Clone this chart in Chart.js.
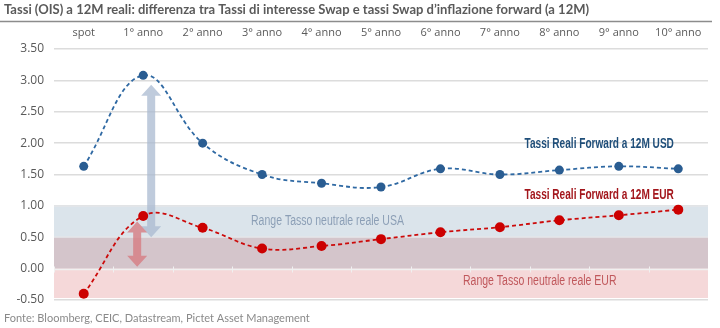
<!DOCTYPE html>
<html><head><meta charset="utf-8">
<script src="https://cdn.jsdelivr.net/npm/chart.js@4/dist/chart.umd.min.js"></script>
<style>html,body{margin:0;padding:0;background:#fff}#wrap{width:720px;height:328px;position:relative}</style>
</head><body><div id="wrap"><canvas id="c" width="720" height="328"></canvas></div>
<script>
const categories = ['spot','1° anno','2° anno','3° anno','4° anno','5° anno','6° anno','7° anno','8° anno','9° anno','10° anno'];
const usdValues = [1.63, 3.08, 2.00, 1.50, 1.36, 1.30, 1.59, 1.50, 1.57, 1.63, 1.59];
const eurValues = [-0.40, 0.84, 0.65, 0.32, 0.36, 0.47, 0.58, 0.66, 0.77, 0.85, 0.94];
const yTicks = [-0.5, 0, 0.5, 1, 1.5, 2, 2.5, 3, 3.5];
const usaBand = [0.0, 1.0];
const eurBand = [-0.5, 0.5];
const usdArrow = [2.93, 0.5];
const eurArrow = [0.75, 0.03];
const titleText = 'Tassi (OIS) a 12M reali: differenza tra Tassi di interesse Swap e tassi Swap d\u2019inflazione forward (a 12M)';
const sourceText = 'Fonte: Bloomberg, CEIC, Datastream, Pictet Asset Management';

function narrowText(ctx, text, cx, cy, font, color, sx) {
  ctx.save();
  ctx.font = font;
  ctx.fillStyle = color;
  ctx.textAlign = 'center';
  ctx.textBaseline = 'middle';
  ctx.translate(cx, cy);
  ctx.scale(sx, 1);
  ctx.fillText(text, 0, 0);
  ctx.restore();
}

function arrow(ctx, x, y1, y2, color) {
  const sw = 4, hw = 10, hh = 11;
  ctx.save();
  ctx.fillStyle = color;
  ctx.beginPath();
  ctx.moveTo(x, y1);
  ctx.lineTo(x + hw, y1 + hh);
  ctx.lineTo(x + sw, y1 + hh);
  ctx.lineTo(x + sw, y2 - hh);
  ctx.lineTo(x + hw, y2 - hh);
  ctx.lineTo(x, y2);
  ctx.lineTo(x - hw, y2 - hh);
  ctx.lineTo(x - sw, y2 - hh);
  ctx.lineTo(x - sw, y1 + hh);
  ctx.lineTo(x - hw, y1 + hh);
  ctx.closePath();
  ctx.fill();
  ctx.restore();
}

const decor = {
  id: 'decor',
  beforeDatasetsDraw(chart) {
    const {ctx, chartArea: a, scales: {x, y}} = chart;
    ctx.save();
    const yU1 = y.getPixelForValue(usaBand[1]), yU0 = y.getPixelForValue(usaBand[0]);
    const yE1 = y.getPixelForValue(eurBand[1]), yE0 = y.getPixelForValue(eurBand[0]);
    const w = a.right - a.left;
    ctx.fillStyle = '#dbe4eb';
    ctx.fillRect(a.left, yU1, w, yE1 - yU1);
    ctx.fillStyle = '#d4c5cb';
    ctx.fillRect(a.left, yE1, w, yU0 - yE1);
    ctx.fillStyle = '#f5d8d9';
    ctx.fillRect(a.left, yU0, w, yE0 - yU0 - 2);
    ctx.strokeStyle = '#e4e6e8';
    ctx.lineWidth = 1.5;
    [yU1, yE1].forEach(py => { ctx.beginPath(); ctx.moveTo(a.left, Math.round(py)); ctx.lineTo(a.right, Math.round(py)); ctx.stroke(); });
    const y0 = Math.round(y.getPixelForValue(0)) + 0.5;
    ctx.strokeStyle = '#f0f0f0';
    ctx.lineWidth = 1.5;
    ctx.beginPath(); ctx.moveTo(a.left, y0); ctx.lineTo(a.right, y0); ctx.stroke();
    ctx.lineWidth = 1;
    for (let i = 0; i < categories.length - 1; i++) {
      const px = Math.round((x.getPixelForValue(i) + x.getPixelForValue(i + 1)) / 2) + 0.5;
      ctx.beginPath(); ctx.moveTo(px, y0 - 3); ctx.lineTo(px, y0 + 3); ctx.stroke();
    }
    const pxL = Math.round(a.left) + 0.5;
    ctx.beginPath(); ctx.moveTo(pxL, y0 - 3); ctx.lineTo(pxL, y0 + 3); ctx.stroke();
    narrowText(ctx, 'Range Tasso neutrale reale USA', x.getPixelForValue(4.1), y.getPixelForValue(0.75),
      '14px "Liberation Sans", Arial, sans-serif', '#8c9fb6', 0.75);
    narrowText(ctx, 'Range Tasso neutrale reale EUR', x.getPixelForValue(7.67), y.getPixelForValue(-0.2),
      '14px "Liberation Sans", Arial, sans-serif', '#c0585c', 0.75);
    const xi = x.getPixelForValue(1);
    arrow(ctx, xi + 8, y.getPixelForValue(usdArrow[0]), y.getPixelForValue(usdArrow[1]), 'rgba(170,186,208,0.75)');
    arrow(ctx, xi - 6, y.getPixelForValue(eurArrow[0]), y.getPixelForValue(eurArrow[1]), 'rgba(214,124,130,0.8)');
    ctx.restore();
  },
  afterDraw(chart) {
    const {ctx, scales: {x, y}} = chart;
    ctx.save();
    ctx.font = 'bold 13px Lato, sans-serif';
    ctx.fillStyle = '#5a5a5a';
    ctx.textAlign = 'left';
    ctx.textBaseline = 'middle';
    ctx.fillText(titleText, 4, 10);
    ctx.strokeStyle = '#8c8c8c';
    ctx.lineWidth = 1.5;
    ctx.beginPath(); ctx.moveTo(0, 21.5); ctx.lineTo(712, 21.5); ctx.stroke();
    ctx.font = '11px Lato, sans-serif';
    ctx.fillStyle = '#8a8a8a';
    ctx.fillText(sourceText, 4, 318);
    ctx.restore();
    narrowText(ctx, 'Tassi Reali Forward a 12M USD', x.getPixelForValue(8.67), y.getPixelForValue(1.99),
      'bold 14px "Liberation Sans", Arial, sans-serif', '#1f4e79', 0.72);
    narrowText(ctx, 'Tassi Reali Forward a 12M EUR', x.getPixelForValue(8.67), y.getPixelForValue(1.17),
      'bold 14px "Liberation Sans", Arial, sans-serif', '#a3161c', 0.72);
  }
};

new Chart(document.getElementById('c'), {
  type: 'line',
  data: {
    labels: categories,
    datasets: [
      {label: 'Tassi Reali Forward a 12M USD', data: usdValues, borderColor: '#2f69a3', backgroundColor: '#2a5d92',
       borderWidth: 1.8, borderDash: [4, 3], pointRadius: 4.5, pointBorderWidth: 0, tension: 0.4},
      {label: 'Tassi Reali Forward a 12M EUR', data: eurValues, borderColor: '#cc0a0a', backgroundColor: '#cc0000',
       borderWidth: 1.8, borderDash: [4, 3], pointRadius: 5, pointBorderWidth: 0, tension: 0.4}
    ]
  },
  plugins: [decor],
  options: {
    responsive: false,
    animation: false,
    layout: {padding: {top: 24, bottom: 28, left: 0, right: 12}},
    plugins: {legend: {display: false}, tooltip: {enabled: false}},
    scales: {
      x: {
        position: 'top',
        offset: true,
        grid: {display: false},
        border: {display: false},
        ticks: {color: '#595959', font: {family: '"Open Sans", sans-serif', size: 11}, padding: 2, maxRotation: 0},
        afterFit(s) { s.height = 25; }
      },
      y: {
        min: -0.5, max: 3.5,
        afterBuildTicks(s) { s.ticks = yTicks.map(v => ({value: v})); },
        grid: {color: '#dcdcdc', lineWidth: 1.5, drawTicks: false},
        border: {display: false},
        ticks: {color: '#595959', font: {family: '"Open Sans", sans-serif', size: 12}, padding: 10,
                callback: v => v.toFixed(2)},
        afterFit(s) { s.width = 54; }
      }
    }
  }
});
</script></body></html>
